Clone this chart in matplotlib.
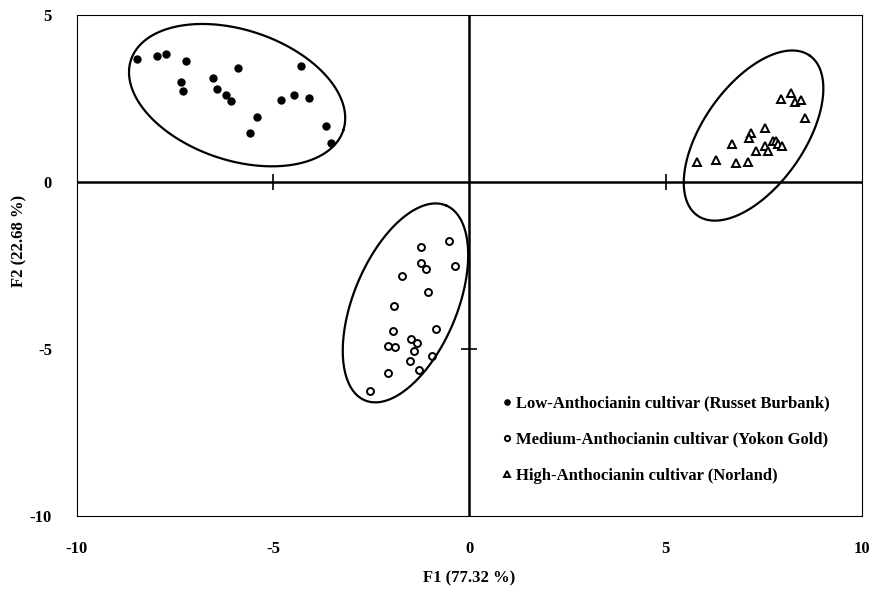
import numpy as np
import matplotlib
matplotlib.use("Agg")
import matplotlib.pyplot as plt

plt.rcParams['font.family'] = ['Liberation Serif', 'DejaVu Serif']

# scores on the two factors
low_f1 = [-8.46, -7.97, -7.73, -7.23, -7.35, -7.31, -6.54, -6.44, -6.20, -6.07,
          -5.89, -5.41, -5.59, -4.80, -4.48, -4.30, -4.10, -3.66, -3.54]
low_f2 = [3.67, 3.77, 3.82, 3.61, 3.00, 2.73, 3.12, 2.77, 2.59, 2.43,
          3.41, 1.95, 1.48, 2.46, 2.60, 3.47, 2.51, 1.67, 1.16]

med_f1 = [-0.52, -1.24, -1.23, -1.11, -0.38, -1.71, -1.06, -1.93, -1.94, -0.84,
          -1.50, -1.33, -2.08, -1.89, -1.40, -0.95, -1.52, -1.29, -2.08, -2.54]
med_f2 = [-1.76, -1.96, -2.43, -2.60, -2.52, -2.82, -3.28, -3.72, -4.47, -4.40,
          -4.71, -4.82, -4.91, -4.95, -5.05, -5.20, -5.37, -5.62, -5.71, -6.25]

high_f1 = [7.93, 8.19, 8.29, 8.45, 8.55, 7.54, 7.17, 7.13, 6.69, 7.29,
           7.53, 7.60, 7.74, 7.81, 7.87, 7.97, 5.81, 6.28, 6.80, 7.11]
high_f2 = [2.48, 2.66, 2.40, 2.46, 1.93, 1.62, 1.47, 1.31, 1.14, 0.94,
           1.07, 0.94, 1.24, 1.22, 1.14, 1.07, 0.60, 0.67, 0.56, 0.61]

labels = ["Low-Anthocianin cultivar (Russet Burbank)",
          "Medium-Anthocianin cultivar (Yokon Gold)",
          "High-Anthocianin cultivar (Norland)"]

# ellipses: centre (F1, F2), semi-axes (in F1 units, on screen), tilt in degrees
ell_cx = [-5.92, -1.63, 7.24]
ell_cy = [2.60, -3.62, 1.39]
ell_a = [2.85, 2.69, 2.49]
ell_b = [1.66, 1.32, 1.29]
ell_ang = [-18.4, 67.4, 54.9]

xticks = [-10, -5, 0, 5, 10]
yticks = [-10, -5, 0, 5]

fig = plt.figure(figsize=(8.75, 5.95), dpi=100)
ax = fig.add_axes([0.088, 0.1328, 0.897, 0.842])
ax.set_xlim(-10, 10)
ax.set_ylim(-10, 5)

for s in ax.spines.values():
    s.set_linewidth(0.8)

ax.axhline(0, color='black', lw=1.8, zorder=1)
ax.axvline(0, color='black', lw=1.8, zorder=1)
ax.plot([t for t in xticks if t not in (-10, 0, 10)], [0, 0], ls='none',
        marker='|', ms=11, mew=1.2, color='black')
ax.plot([0] * 1, [t for t in yticks if t not in (-10, 0, 5)], ls='none',
        marker='_', ms=11, mew=1.2, color='black')

ax.plot(low_f1, low_f2, 'o', ms=5, color='black', label=labels[0])
ax.plot(med_f1, med_f2, 'o', ms=5, mfc='white', mec='black', mew=1.4, label=labels[1])
ax.plot(high_f1, high_f2, '^', ms=6, mfc='white', mec='black', mew=1.4, label=labels[2])

# screen aspect so the ellipses keep their drawn shape
ratio = (ax.bbox.width / 20) / (ax.bbox.height / 15)
t = np.linspace(0, 2 * np.pi, 300)
for cx, cy, a, b, ang in zip(ell_cx, ell_cy, ell_a, ell_b, ell_ang):
    th = np.radians(ang)
    u, v = a * np.cos(t), b * np.sin(t)
    dx = u * np.cos(th) - v * np.sin(th)
    dy = u * np.sin(th) + v * np.cos(th)
    ax.plot(cx + dx, cy + dy * ratio, color='black', lw=1.6)

ax.set_xticks(xticks)
ax.set_xticklabels([str(v) for v in xticks])
ax.set_yticks(yticks)
ax.set_yticklabels([str(v) for v in yticks])
ax.tick_params(length=0, labelsize=12, pad=18)
for lab in ax.get_xticklabels() + ax.get_yticklabels():
    lab.set_fontweight('bold')

ax.set_xlabel("F1 (77.32 %)", fontsize=12, fontweight='bold', labelpad=10)
ax.set_ylabel("F2 (22.68 %)", fontsize=12, fontweight='bold')
ax.yaxis.set_label_coords(-0.063, 0.55)

ax.legend(loc='upper left', bbox_to_anchor=(0.521, 0.27), frameon=False,
          prop={'size': 12, 'weight': 'bold'}, handletextpad=0.2,
          handlelength=0.7, labelspacing=1.2, markerscale=0.75)

plt.savefig("out.png", dpi=100)
